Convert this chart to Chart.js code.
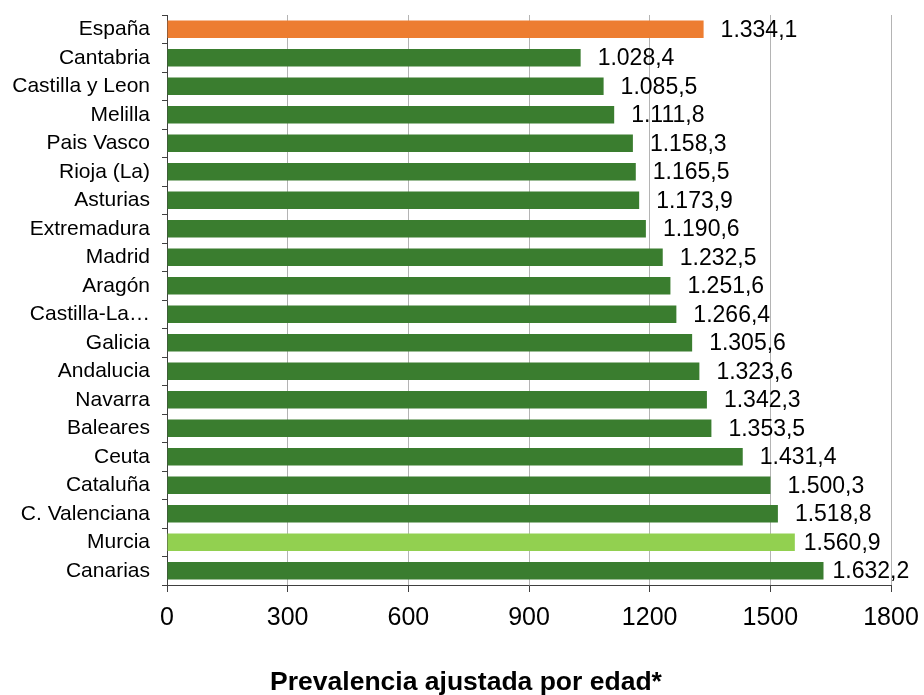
<!DOCTYPE html>
<html>
<head>
<meta charset="utf-8">
<script src="https://cdn.jsdelivr.net/npm/chart.js@4/dist/chart.umd.min.js"></script>
<style>
  html, body { margin: 0; padding: 0; background: #ffffff; }
  #wrap { width: 924px; height: 695px; position: relative; }
</style>
</head>
<body>
<div id="wrap"><canvas id="c" width="924" height="695"></canvas></div>
<script>
const categories = [
  "España", "Cantabria", "Castilla y Leon", "Melilla", "Pais Vasco", "Rioja (La)",
  "Asturias", "Extremadura", "Madrid", "Aragón", "Castilla-La Mancha", "Galicia",
  "Andalucia", "Navarra", "Baleares", "Ceuta", "Cataluña", "C. Valenciana",
  "Murcia", "Canarias"
];
const prevalence = [
  1334.1, 1028.4, 1085.5, 1111.8, 1158.3, 1165.5,
  1173.9, 1190.6, 1232.5, 1251.6, 1266.4, 1305.6,
  1323.6, 1342.3, 1353.5, 1431.4, 1500.3, 1518.8,
  1560.9, 1632.2
];
const xTicks = [0, 300, 600, 900, 1200, 1500, 1800];
const axisTitle = "Prevalencia ajustada por edad*";
const nationalLabel = "España";
const highlightLabel = "Murcia";

const COLOR_NATIONAL = "#ED7D31";
const COLOR_HIGHLIGHT = "#92D050";
const COLOR_DEFAULT = "#3A7D2F";
const barColors = categories.map(c =>
  c === nationalLabel ? COLOR_NATIONAL : (c === highlightLabel ? COLOR_HIGHLIGHT : COLOR_DEFAULT));

function formatEs(v) {
  const parts = v.toFixed(1).split(".");
  const intPart = parts[0].replace(/\B(?=(\d{3})+(?!\d))/g, ".");
  return intPart + "," + parts[1];
}

const valueLabels = {
  id: "valueLabels",
  afterDatasetsDraw(chart) {
    const ctx = chart.ctx;
    const meta = chart.getDatasetMeta(0);
    const right = chart.chartArea.right;
    ctx.save();
    ctx.font = "23px 'Liberation Sans', Arial, sans-serif";
    ctx.fillStyle = "#000000";
    ctx.textAlign = "left";
    ctx.textBaseline = "middle";
    meta.data.forEach((bar, i) => {
      const txt = formatEs(prevalence[i]);
      const w = ctx.measureText(txt).width;
      let gap = 17;
      if (bar.x + gap + w > right - 5) gap = 9;
      ctx.fillText(txt, bar.x + gap, bar.y + 1);
    });
    ctx.restore();
  },
  afterDraw(chart) {
    const ctx = chart.ctx;
    ctx.save();
    ctx.font = "bold 26.5px 'Liberation Sans', Arial, sans-serif";
    ctx.fillStyle = "#000000";
    ctx.textAlign = "center";
    ctx.textBaseline = "middle";
    ctx.fillText(axisTitle, 466, 683);
    ctx.restore();
  }
};

Chart.defaults.font.family = "'Liberation Sans', Arial, sans-serif";
Chart.defaults.color = "#000000";

new Chart(document.getElementById("c"), {
  type: "bar",
  data: {
    labels: categories,
    datasets: [{
      data: prevalence,
      backgroundColor: barColors,
      borderWidth: 0,
      categoryPercentage: 1.0,
      barPercentage: 0.62
    }]
  },
  options: {
    indexAxis: "y",
    responsive: false,
    animation: false,
    devicePixelRatio: 1,
    layout: { padding: { left: 0, right: 33, top: 15, bottom: 0 } },
    plugins: {
      legend: { display: false },
      tooltip: { enabled: false }
    },
    scales: {
      x: {
        type: "linear",
        min: 0,
        max: 1800,
        afterBuildTicks(scale) { scale.ticks = xTicks.map(v => ({ value: v })); },
        afterFit(scale) {
          scale.height = 695 - 585;
          scale.paddingLeft = 0; scale.paddingRight = 0;
        },
        grid: {
          display: true,
          drawOnChartArea: true,
          drawTicks: true,
          tickLength: 7,
          color: "#B4B4B4",
          tickColor: "#404040",
          lineWidth: 1
        },
        border: { display: true, color: "#404040", width: 1 },
        ticks: {
          font: { size: 25 },
          color: "#000000",
          padding: 11,
          maxRotation: 0,
          callback(value) { return String(value); }
        }
      },
      y: {
        type: "category",
        afterFit(scale) {
          scale.width = 167;
          scale.paddingTop = 0; scale.paddingBottom = 0;
        },
        grid: {
          display: true,
          drawOnChartArea: false,
          drawTicks: true,
          tickLength: 5,
          offset: true,
          tickColor: "#404040",
          color: "#404040"
        },
        border: { display: true, color: "#404040", width: 1 },
        ticks: {
          font: { size: 21 },
          color: "#000000",
          padding: 12,
          autoSkip: false,
          callback(value) {
            const label = this.getLabelForValue(value);
            return label.length > 16 ? label.slice(0, 11) + "…" : label;
          }
        }
      }
    }
  },
  plugins: [valueLabels]
});
</script>
</body>
</html>
